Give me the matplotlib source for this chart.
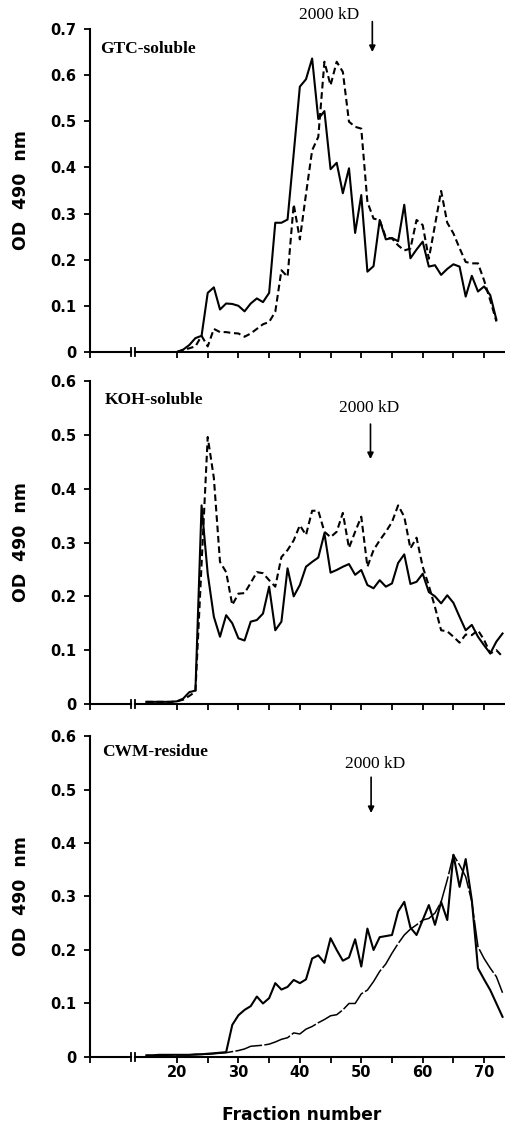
import numpy as np
import matplotlib
matplotlib.use('Agg')
import matplotlib.pyplot as plt

# fraction numbers
frac_gtc = list(range(20, 73))
frac_koh = list(range(15, 74))
frac_cwm = list(range(15, 74))

# OD 490 nm readings
gtc_solid = [0.0, 0.005, 0.015, 0.03, 0.035, 0.128, 0.14, 0.092, 0.105, 0.104,
             0.1, 0.088, 0.105, 0.116, 0.108, 0.128, 0.28, 0.28, 0.287, 0.43,
             0.575, 0.591, 0.636, 0.505, 0.522, 0.396, 0.41, 0.344, 0.398, 0.258,
             0.34, 0.174, 0.186, 0.286, 0.244, 0.247, 0.24, 0.319, 0.203, 0.222,
             0.239, 0.185, 0.188, 0.167, 0.18, 0.19, 0.185, 0.12, 0.165, 0.131,
             0.142, 0.123, 0.07]
gtc_dashed = [0.0, 0.004, 0.008, 0.012, 0.035, 0.012, 0.05, 0.043, 0.043, 0.041,
              0.04, 0.033, 0.04, 0.05, 0.06, 0.065, 0.087, 0.177, 0.163, 0.32,
              0.244, 0.342, 0.437, 0.466, 0.629, 0.578, 0.629, 0.607, 0.499, 0.488,
              0.484, 0.325, 0.289, 0.286, 0.248, 0.246, 0.231, 0.22, 0.224, 0.286,
              0.275, 0.202, 0.275, 0.349, 0.28, 0.257, 0.225, 0.195, 0.192, 0.192,
              0.155, 0.112, 0.066]

koh_solid = [0.004, 0.004, 0.004, 0.004, 0.004,
             0.005, 0.01, 0.022, 0.025, 0.369, 0.242, 0.162, 0.125, 0.165, 0.15,
             0.122, 0.118, 0.153, 0.156, 0.168, 0.218, 0.137, 0.153, 0.252, 0.2,
             0.221, 0.255, 0.264, 0.272, 0.317, 0.244, 0.249, 0.255, 0.26, 0.24,
             0.249, 0.221, 0.215, 0.23, 0.218, 0.224, 0.262, 0.278, 0.223, 0.227,
             0.242, 0.208, 0.2, 0.187, 0.202, 0.188, 0.162, 0.137, 0.147, 0.125,
             0.109, 0.094, 0.116, 0.131]
koh_dashed = [0.004, 0.004, 0.004, 0.004, 0.004,
              0.005, 0.008, 0.015, 0.023, 0.26, 0.496, 0.42, 0.264, 0.245, 0.184,
              0.205, 0.206, 0.225, 0.245, 0.243, 0.23, 0.218, 0.273, 0.286, 0.304,
              0.332, 0.314, 0.359, 0.359, 0.32, 0.31, 0.32, 0.355, 0.29, 0.32,
              0.348, 0.255, 0.286, 0.304, 0.32, 0.338, 0.369, 0.348, 0.289, 0.309,
              0.255, 0.22, 0.18, 0.137, 0.135, 0.125, 0.114, 0.129, 0.128, 0.137,
              0.119, 0.094, 0.1, 0.088]

cwm_solid = [0.003, 0.003, 0.004, 0.004, 0.004,
             0.004, 0.004, 0.004, 0.005, 0.005, 0.006, 0.007, 0.008, 0.009, 0.06,
             0.078, 0.088, 0.095, 0.113, 0.1, 0.11, 0.138, 0.126, 0.131, 0.144,
             0.138, 0.145, 0.184, 0.19, 0.176, 0.222, 0.2, 0.18, 0.186, 0.22,
             0.169, 0.24, 0.2, 0.224, 0.226, 0.228, 0.272, 0.29, 0.242, 0.228,
             0.256, 0.284, 0.247, 0.29, 0.256, 0.378, 0.318, 0.37, 0.293, 0.166,
             0.145, 0.125, 0.1, 0.075]
cwm_dashed = [0.003, 0.003, 0.003, 0.003, 0.004,
              0.004, 0.004, 0.004, 0.004, 0.005, 0.005, 0.006, 0.007, 0.008, 0.01,
              0.012, 0.015, 0.02, 0.021, 0.022, 0.024, 0.028, 0.033, 0.036, 0.045,
              0.043, 0.052, 0.057, 0.064, 0.07, 0.077, 0.079, 0.088, 0.1, 0.1,
              0.118, 0.125, 0.141, 0.16, 0.174, 0.194, 0.212, 0.228, 0.239, 0.247,
              0.256, 0.259, 0.269, 0.29, 0.331, 0.378, 0.359, 0.337, 0.29, 0.206,
              0.184, 0.166, 0.15, 0.12]

panel_names = ['GTC-soluble', 'KOH-soluble', 'CWM-residue']
ymax = [0.7, 0.6, 0.6]
xticks = [20, 25, 30, 35, 40, 45, 50, 55, 60, 65, 70]
xticklabels = ['20', '', '30', '', '40', '', '50', '', '60', '', '70']

XMIN, XMAX = 5.9, 73.4
BREAK = (12.55, 13.2)

fig = plt.figure(figsize=(5.05, 11.23), dpi=100)

# axes boxes [left, bottom, width, height]
boxes = [[0.179, 0.6866, 0.821, 0.2876],
         [0.179, 0.3731, 0.821, 0.2876],
         [0.179, 0.0588, 0.821, 0.2858]]

series = [(frac_gtc, gtc_solid, gtc_dashed),
          (frac_koh, koh_solid, koh_dashed),
          (frac_cwm, cwm_solid, cwm_dashed)]

# 2000 kD marker: (text x, text y, arrow x, arrow top, arrow tip)
marks = [(44.7, 0.731, 51.8, 0.716, 0.65),
         (51.3, 0.55, 51.5, 0.52, 0.455),
         (52.2, 0.548, 51.6, 0.523, 0.456)]
name_pos = [(7.5, 0.657), (8.3, 0.564), (7.8, 0.570)]

for i, box in enumerate(boxes):
    ax = fig.add_axes(box)
    x, ys, yd = series[i]
    ax.plot(x, ys, color='black', lw=1.5)
    if i == 2:
        ax.plot(x, yd, color='black', lw=1.1, linestyle=(0, (18, 1.5)))
    else:
        ax.plot(x, yd, color='black', lw=1.5, linestyle=(0, (3.2, 1.8)))

    ax.set_xlim(XMIN, XMAX)
    ax.set_ylim(0, ymax[i])
    for s in ['top', 'right', 'bottom']:
        ax.spines[s].set_visible(False)
    ax.spines['left'].set_linewidth(1.5)

    # x axis drawn in two pieces with a break mark
    ax.plot([XMIN, BREAK[0]], [0, 0], color='black', lw=1.5, clip_on=False)
    ax.plot([BREAK[1], XMAX], [0, 0], color='black', lw=1.5, clip_on=False)
    tr = ax.get_xaxis_transform()
    for bx in BREAK:
        ax.plot([bx, bx], [-0.012, 0.012], color='black', lw=1.3,
                transform=tr, clip_on=False)

    ax.set_xticks([XMIN] + xticks)
    if i == 2:
        ax.set_xticklabels([''] + xticklabels)
    else:
        ax.set_xticklabels([])
    yt = np.round(np.arange(0, ymax[i] + 0.05, 0.1), 1)
    ax.set_yticks(yt)
    ax.set_yticklabels(['0'] + ['%.1f' % v for v in yt[1:]])
    ax.tick_params(axis='both', direction='out', length=4.5, width=1.3,
                   labelsize=10.5, color='black')
    ax.tick_params(axis='y', pad=5.5)
    ax.tick_params(axis='x', pad=1.5)
    for lab in ax.get_xticklabels() + ax.get_yticklabels():
        lab.set_fontweight('bold')

    ax.set_ylabel('OD  490  nm', fontsize=12.5, fontweight='bold')
    ax.yaxis.set_label_coords(-0.146, 0.5)

    nx, ny = name_pos[i]
    ax.text(nx, ny, panel_names[i], family='Liberation Serif',
            fontweight='bold', fontsize=12.5, va='center', ha='left')

    tx, ty, axx, atop, atip = marks[i]
    ax.text(tx, ty, '2000 kD', family='Liberation Serif', fontsize=12.5,
            ha='center', va='center')
    ax.annotate('', xy=(axx, atip), xytext=(axx, atop),
                arrowprops=dict(arrowstyle='-|>', color='black', lw=1.2,
                                mutation_scale=9, shrinkA=0, shrinkB=0))

fig.text(0.598, 3.5 / 1123, 'Fraction number', fontsize=12.3,
         fontweight='bold', ha='center', va='baseline')

fig.savefig('out.png', dpi=100)
